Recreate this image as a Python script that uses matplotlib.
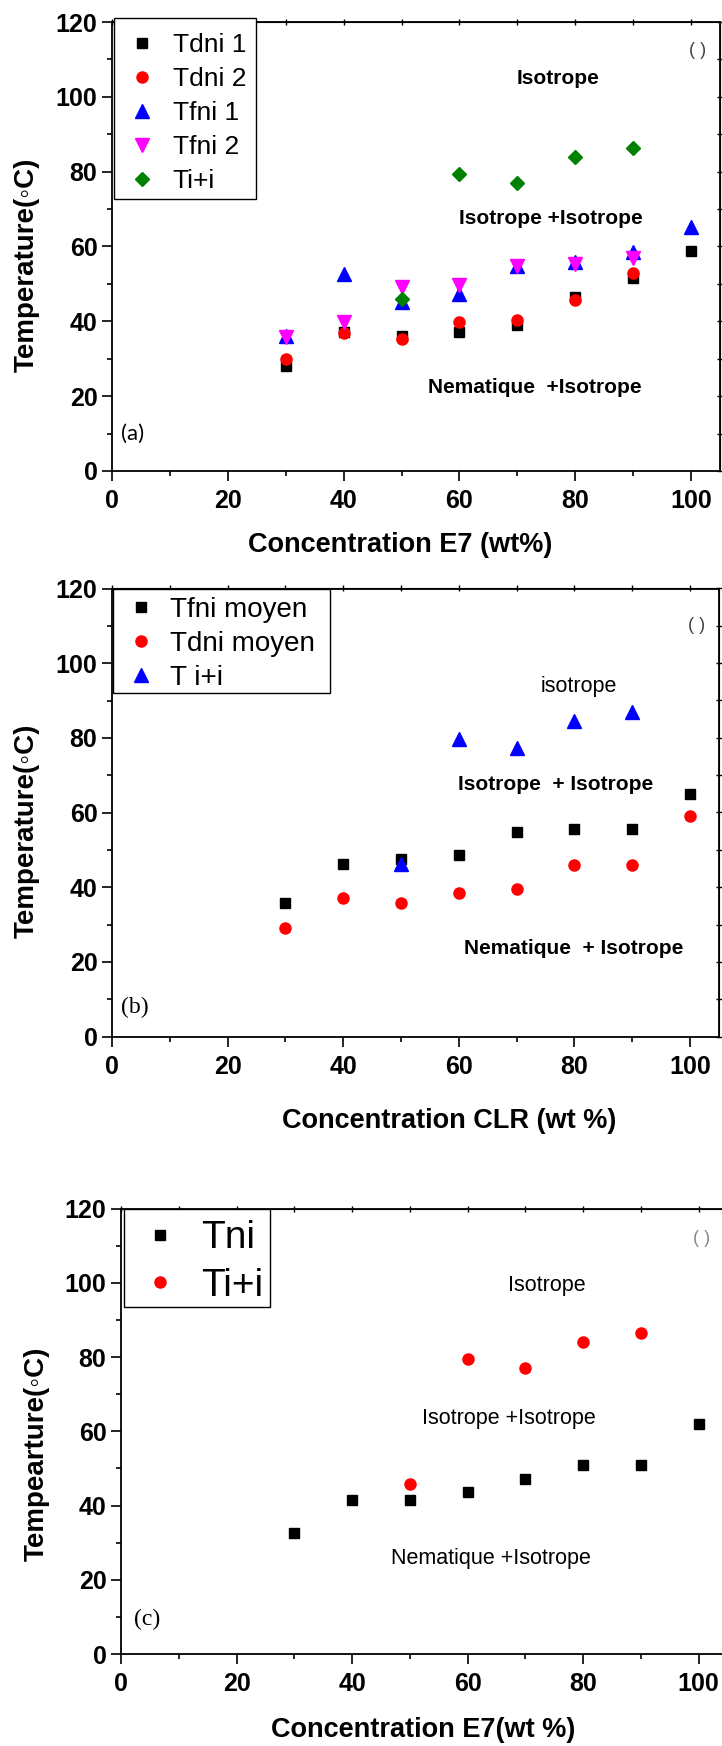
import matplotlib
matplotlib.use("Agg")
import matplotlib.pyplot as plt
from matplotlib.ticker import MultipleLocator
from matplotlib.patches import Rectangle

plt.rcParams["font.family"] = ["Liberation Sans", "DejaVu Sans"]

W, H, DPI = 722, 1746, 100

# ---- shared axis data ----
xticks = [0, 20, 40, 60, 80, 100]
yticks = [0, 20, 40, 60, 80, 100, 120]
conc = [30, 40, 50, 60, 70, 80, 90, 100]
conc_short = [30, 40, 50, 60, 70, 80, 90]
conc_ii = [50, 60, 70, 80, 90]

# ---- panel (a): E7 ----
a_tdni1 = [28.1, 37.2, 36.2, 37.2, 38.9, 46.5, 51.7, 58.9]
a_tdni2 = [30.0, 37.0, 35.3, 39.8, 40.3, 45.6, 52.8]
a_tfni1 = [36.2, 52.7, 45.3, 47.4, 54.9, 55.8, 58.4, 65.3]
a_tfni2 = [35.8, 39.8, 49.3, 49.6, 54.9, 55.3, 57.0]
a_tii = [46.0, 79.4, 77.0, 83.9, 86.3]

# ---- panel (b): CLR ----
b_tfni = [35.8, 46.2, 47.6, 48.6, 54.8, 55.6, 55.6, 65.0]
b_tdni = [29.0, 37.2, 35.7, 38.5, 39.5, 45.9, 45.9, 59.1]
b_tii = [46.2, 79.6, 77.4, 84.5, 86.8]

# ---- panel (c): E7 ----
c_tni = [32.5, 41.6, 41.5, 43.6, 47.1, 50.8, 50.8, 62.1]
c_tii = [45.9, 79.4, 77.1, 84.1, 86.5]

fig = plt.figure(figsize=(W / DPI, H / DPI), dpi=DPI)
fig.patch.set_facecolor("white")


def fx(px):
    return px / W


def fy(py):
    return 1 - py / H


def make_axes(left, top, right, bottom):
    ax = fig.add_axes([fx(left), fy(bottom), (right - left) / W, (bottom - top) / H])
    ax.set_xlim(0, 105)
    ax.set_ylim(0, 120)
    ax.set_xticks(xticks)
    ax.set_yticks(yticks)
    ax.set_xticklabels([str(v) for v in xticks], fontsize=18, fontweight="bold")
    ax.set_yticklabels([str(v) for v in yticks], fontsize=18, fontweight="bold")
    ax.xaxis.set_minor_locator(MultipleLocator(10))
    ax.yaxis.set_minor_locator(MultipleLocator(10))
    ax.tick_params(which="major", direction="out", length=7, width=1.2)
    ax.tick_params(which="minor", direction="out", length=3.6, width=1.2)
    ax.tick_params(axis="x", which="major", pad=6)
    ax.tick_params(axis="y", which="major", pad=3.5)
    for s in ax.spines.values():
        s.set_linewidth(1.3)
    top_ax = ax.secondary_xaxis("top")
    top_ax.xaxis.set_major_locator(MultipleLocator(10))
    top_ax.tick_params(direction="inout", length=4, width=1, labeltop=False)
    right_ax = ax.secondary_yaxis("right")
    right_ax.yaxis.set_major_locator(MultipleLocator(10))
    right_ax.tick_params(direction="inout", length=4, width=1, labelright=False)
    return ax


def legend_box(handles, labels, left, top, right, bottom, fontsize, marker_x,
               text_x, row_center, row_step):
    rect = Rectangle((fx(left), fy(bottom)), (right - left) / W, (bottom - top) / H,
                     transform=fig.transFigure, facecolor="white",
                     edgecolor="black", linewidth=1.0, zorder=3)
    fig.patches.append(rect)
    fs_px = fontsize * DPI / 72
    hl = 1.2
    start = marker_x - hl * fs_px / 2
    pad = (text_x - start - hl * fs_px) / fs_px
    ls = (row_step - 0.95 * fs_px) / fs_px
    fig.legend(handles, labels, loc="center left",
               bbox_to_anchor=(fx(start), fy(row_center)),
               bbox_transform=fig.transFigure, frameon=False, borderpad=0,
               borderaxespad=0, handlelength=hl, handletextpad=pad,
               labelspacing=ls, prop={"family": "Liberation Sans", "size": fontsize})


def xlabel(text, cx, cy):
    fig.text(fx(cx), fy(cy), text, ha="center", va="center", fontsize=19.5,
             fontweight="bold")


def ylabel(text, cx, cy):
    fig.text(fx(cx), fy(cy), text, ha="center", va="center", fontsize=20,
             fontweight="bold", rotation=90)


SQ = dict(marker="s", color="black", markersize=7.2, linestyle="none")
CI = dict(marker="o", color="red", markersize=8, linestyle="none")

# ================= panel (a) =================
ax = make_axes(112, 22, 720, 471)
h1, = ax.plot(conc, a_tdni1, **SQ)
h2, = ax.plot(conc_short, a_tdni2, **CI)
h3, = ax.plot(conc, a_tfni1, marker="^", color="blue", markersize=9.4, linestyle="none")
h4, = ax.plot(conc_short, a_tfni2, marker="v", color="magenta", markersize=9.4, linestyle="none")
h5, = ax.plot(conc_ii, a_tii, marker="D", color="green", markersize=6.8, linestyle="none")
ax.text(77.1, 105, "Isotrope", ha="center", va="center", fontsize=15, fontweight="bold")
ax.text(75.8, 67.6, "Isotrope +Isotrope", ha="center", va="center", fontsize=15, fontweight="bold")
ax.text(73.1, 22.2, "Nematique  +Isotrope", ha="center", va="center", fontsize=15, fontweight="bold")
ax.text(3.6, 9.9, "(a)", ha="center", va="center", fontsize=16, family="Lato")
ax.text(101.2, 112.5, "( )", ha="center", va="center", fontsize=13, color="#444444")
legend_box([h1, h2, h3, h4, h5], ["Tdni 1", "Tdni 2", "Tfni 1", "Tfni 2", "Ti+i"],
           114, 18, 256, 199, 19, 142, 172.7, 113, 35)
xlabel("Concentration E7 (wt%)", 400, 545)
ylabel("Temperature(\u25e6C)", 26.5, 265)

# ================= panel (b) =================
ax = make_axes(112, 588.5, 719, 1036.5)
g1, = ax.plot(conc, b_tfni, **SQ)
g2, = ax.plot(conc, b_tdni, **CI)
g3, = ax.plot(conc_ii, b_tii, marker="^", color="blue", markersize=9.4, linestyle="none")
ax.text(80.7, 93.8, "isotrope", ha="center", va="center", fontsize=15.5)
ax.text(76.7, 67.5, "Isotrope  + Isotrope", ha="center", va="center", fontsize=15, fontweight="bold")
ax.text(79.8, 23.6, "Nematique  + Isotrope", ha="center", va="center", fontsize=15, fontweight="bold")
ax.text(4.0, 7.7, "(b)", ha="center", va="center", fontsize=17, family="Liberation Serif")
ax.text(101.2, 110, "( )", ha="center", va="center", fontsize=13, color="#444444")
legend_box([g1, g2, g3], ["Tfni moyen", "Tdni moyen", "T i+i"],
           113, 589, 330, 693, 20, 140.5, 170.5, 643.7, 34.5)
xlabel("Concentration CLR (wt %)", 449, 1120.5)
ylabel("Temperature(\u25e6C)", 26.5, 831)

# ================= panel (c) =================
ax = make_axes(121, 1208.6, 727.4, 1654)
k1, = ax.plot(conc, c_tni, **SQ)
k2, = ax.plot(conc_ii, c_tii, **CI)
ax.text(73.8, 99.4, "Isotrope", ha="center", va="center", fontsize=15.5)
ax.text(67.2, 63.4, "Isotrope +Isotrope", ha="center", va="center", fontsize=15.5)
ax.text(64.1, 25.6, "Nematique +Isotrope", ha="center", va="center", fontsize=15.5)
ax.text(4.5, 9.3, "(c)", ha="center", va="center", fontsize=17, family="Liberation Serif")
ax.text(100.6, 112, "( )", ha="center", va="center", fontsize=13, color="#888888")
legend_box([k1, k2], ["Tni", "Ti+i"],
           123.5, 1209, 269.7, 1306.5, 28, 159.5, 201, 1261.9, 48.5)
xlabel("Concentration E7(wt %)", 423.5, 1730)
ylabel("Tempearture(\u25e6C)", 36.5, 1454)

fig.savefig("out.png", dpi=DPI)
